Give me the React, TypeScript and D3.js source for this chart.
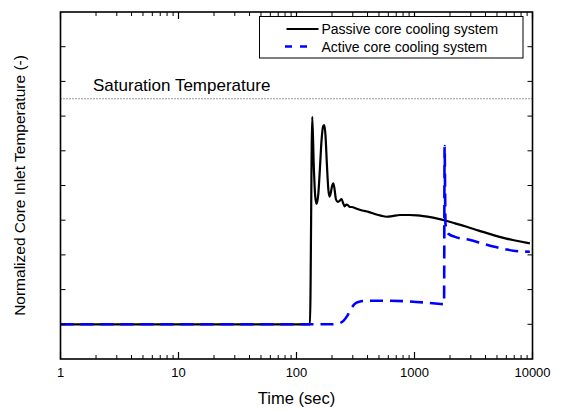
import React from "react";
import * as d3 from "d3";

const passiveT = [1, 130, 136, 140, 144, 148, 153, 158, 163, 168, 172, 176, 181, 186, 190, 195, 200, 205, 210, 216, 224, 232, 241, 248, 256, 265, 274, 283, 293, 324, 360, 407, 460, 520, 581, 650, 754, 900, 1050, 1188, 1400, 1811, 2200, 2769, 3500, 4656, 6000, 7500, 9500];
const passiveV = [1.0, 1.0, 6.98, 5.6, 4.7, 4.47, 4.75, 5.5, 6.3, 6.7, 6.74, 6.45, 5.6, 4.9, 4.68, 4.78, 4.98, 5.06, 4.9, 4.6, 4.53, 4.56, 4.61, 4.5, 4.40, 4.45, 4.43, 4.38, 4.38, 4.33, 4.28, 4.24, 4.18, 4.13, 4.10, 4.12, 4.15, 4.15, 4.14, 4.12, 4.08, 3.99, 3.91, 3.81, 3.70, 3.57, 3.47, 3.40, 3.33];

const activeT = [1, 200, 225, 250, 270, 290, 310, 340, 400, 600, 900, 1200, 1500, 1780, 1800, 1815, 1830, 1880, 1950, 2200, 2953, 3600, 4656, 5800, 6870, 8000, 9500];
const activeV = [1.0, 1.0, 1.02, 1.1, 1.25, 1.45, 1.58, 1.65, 1.68, 1.68, 1.66, 1.63, 1.60, 1.58, 6.14, 5.0, 3.9, 3.7, 3.6, 3.52, 3.43, 3.35, 3.24, 3.17, 3.12, 3.10, 3.09];

const saturation = 7.5;
const xTickValues = [1, 10, 100, 1000, 10000];
const xTickLabels = ["1", "10", "100", "1000", "10000"];
const yTickValues = [1, 2, 3, 4, 5, 6, 7, 8, 9];
const seriesNames = ["Passive core cooling system", "Active core cooling system"];
const xTitle = "Time (sec)";
const yTitle = "Normalized Core Inlet Temperature (-)";
const satLabel = "Saturation Temperature";

export default function App() {
  const W = 563, H = 410;
  const L = 60.5, R = 532.5, T = 12, B = 359;
  const x = d3.scaleLog().domain([1, 10000]).range([L, R]);
  const y = d3.scaleLinear().domain([0, 10]).range([B, T]);
  const line = d3
    .line<[number, number]>()
    .x((d) => x(d[0]))
    .y((d) => y(d[1]))
    .curve(d3.curveMonotoneX);
  const pData = passiveT.map((t, i) => [t, passiveV[i]] as [number, number]);
  const aData = activeT.map((t, i) => [t, activeV[i]] as [number, number]);

  const minor: number[] = [];
  for (let dec = 1; dec < 10000; dec *= 10) {
    for (let k = 2; k <= 9; k++) minor.push(dec * k);
  }
  const font = "'Liberation Sans', Arial, sans-serif";

  return (
    <svg width={W} height={H} style={{ position: "absolute", left: 0, top: 0, background: "#fff" }}>
      <rect x={0} y={0} width={W} height={H} fill="#fff" />
      {/* saturation */}
      <line x1={L} x2={R} y1={y(saturation)} y2={y(saturation)} stroke="#333" strokeWidth={1} strokeDasharray="1,2" />
      <text x={93} y={y(saturation) - 8} fontFamily={font} fontSize={17} fill="#000">{satLabel}</text>
      {/* series */}
      <path d={line(pData) || ""} fill="none" stroke="#000" strokeWidth={2.2} strokeLinejoin="round" />
      <path d={line(aData) || ""} fill="none" stroke="#0000ff" strokeWidth={2.6} strokeDasharray="13,7" />
      {/* frame */}
      <rect x={L} y={T} width={R - L} height={B - T} fill="none" stroke="#000" strokeWidth={1.6} />
      {/* x ticks */}
      {xTickValues.map((v) => (
        <g key={"xt" + v}>
          <line x1={x(v)} x2={x(v)} y1={B} y2={B - 7} stroke="#000" strokeWidth={1.2} />
          <line x1={x(v)} x2={x(v)} y1={T} y2={T + 7} stroke="#000" strokeWidth={1.2} />
        </g>
      ))}
      {minor.map((v) => (
        <g key={"xm" + v}>
          <line x1={x(v)} x2={x(v)} y1={B} y2={B - 4} stroke="#000" strokeWidth={1} />
          <line x1={x(v)} x2={x(v)} y1={T} y2={T + 4} stroke="#000" strokeWidth={1} />
        </g>
      ))}
      {xTickValues.map((v, i) => (
        <text key={"xl" + v} x={x(v)} y={377} textAnchor="middle" fontFamily={font} fontSize={13} fill="#000">
          {xTickLabels[i]}
        </text>
      ))}
      {/* y ticks */}
      {yTickValues.map((v) => (
        <g key={"yt" + v}>
          <line x1={L} x2={L + 5} y1={y(v)} y2={y(v)} stroke="#000" strokeWidth={1} />
          <line x1={R} x2={R - 5} y1={y(v)} y2={y(v)} stroke="#000" strokeWidth={1} />
        </g>
      ))}
      {/* titles */}
      <text x={(L + R) / 2} y={404} textAnchor="middle" fontFamily={font} fontSize={16.5} fill="#000">{xTitle}</text>
      <text transform={`translate(25,${(T + B) / 2}) rotate(-90)`} textAnchor="middle" fontFamily={font} fontSize={15.5} fill="#000">{yTitle}</text>
      {/* legend */}
      <rect x={259.5} y={16.5} width={263.5} height={41.5} fill="#fff" stroke="#000" strokeWidth={1} />
      <line x1={286.5} x2={318.5} y1={29} y2={29} stroke="#000" strokeWidth={2} />
      <text x={321.5} y={34} fontFamily={font} fontSize={14} fill="#000">{seriesNames[0]}</text>
      <line x1={285} x2={307} y1={46.5} y2={46.5} stroke="#0000ff" strokeWidth={2.5} strokeDasharray="7,8" />
      <text x={321.5} y={51.5} fontFamily={font} fontSize={14} fill="#000">{seriesNames[1]}</text>
    </svg>
  );
}
